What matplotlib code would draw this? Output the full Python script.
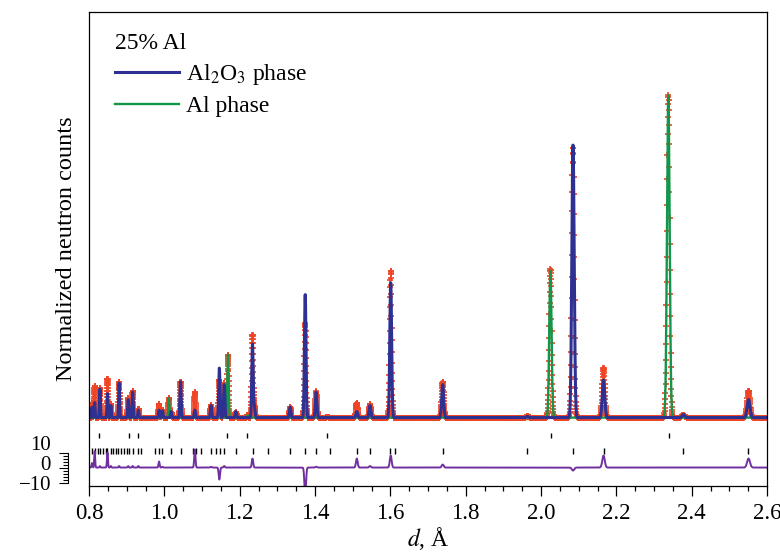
import numpy as np
import matplotlib.pyplot as plt

plt.rcParams['font.family'] = ['Liberation Serif', 'DejaVu Serif']
plt.rcParams['mathtext.fontset'] = 'stix'

# Al2O3 reflections with visible intensity: d (Å), calculated and observed peak heights
al2o3_d = [0.808, 0.815, 0.829, 0.849, 0.858, 0.880, 0.904, 0.916, 0.931, 0.986,
           0.995, 1.018, 1.043, 1.081, 1.124, 1.146, 1.159, 1.190, 1.234, 1.239,
           1.334, 1.374, 1.403, 1.511, 1.546, 1.601, 1.739, 1.964, 2.085, 2.166,
           2.378, 2.551]
al2o3_calc = [7, 10, 19, 16, 8, 23, 12, 17, 5, 5,
              4.5, 4, 24, 5, 8, 33, 22, 4, 49, 7,
              7, 82, 17, 4, 8, 90, 22, 0.8, 182, 25,
              2, 12]
al2o3_obs = [10, 21, 20, 26, 9, 24, 13, 18, 6, 9,
             5, 4, 24, 17, 8.5, 25, 23, 4, 55, 7,
             7, 63, 17.5, 10, 9, 98, 24, 0.8, 180, 33,
             2, 18]

# Al reflections
al_d = [1.012, 1.169, 1.221, 1.433, 2.025, 2.338]
al_calc = [13, 42, 1.5, 0.5, 98, 215]
al_obs = [13, 42, 1.5, 0.5, 99, 215]

# reflection markers of both phases
al2o3_ticks = [0.808, 0.815, 0.823, 0.829, 0.838, 0.844, 0.849, 0.858, 0.864, 0.871,
               0.877, 0.885, 0.893, 0.901, 0.907, 0.916, 0.931, 0.938, 0.975, 0.986,
               0.995, 1.018, 1.043, 1.077, 1.083, 1.097, 1.124, 1.138, 1.148, 1.159,
               1.190, 1.235, 1.275, 1.334, 1.374, 1.402, 1.440, 1.511, 1.545, 1.600,
               1.613, 1.739, 1.964, 2.085, 2.166, 2.378, 2.550]
al_ticks = [0.826, 0.906, 0.929, 1.012, 1.167, 1.220, 1.433, 2.027, 2.341]

background = 33.3
excluded = [(2.014, 2.039), (2.321, 2.374)]

# time-of-flight grid: constant delta d / d
d = np.geomspace(0.79, 2.61, 5900)


def pattern(positions, heights):
    y = np.zeros_like(d)
    for p, h in zip(positions, heights):
        y += h * np.exp(-0.5 * ((d - p) / (0.0015 * p)) ** 2)
    return y


calc_al2o3 = background + pattern(al2o3_d, al2o3_calc)
calc_al = background + pattern(al_d, al_calc)
calc_total = calc_al2o3 + calc_al - background
obs = background + pattern(al2o3_d, al2o3_obs) + pattern(al_d, al_obs)

diff = obs - calc_total
keep = np.ones_like(d, dtype=bool)
for lo, hi in excluded:
    keep &= ~((d > lo) & (d < hi))

fig = plt.figure(figsize=(7.8, 5.57), dpi=100)
ax = fig.add_axes([89 / 780, 1 - 486 / 557, 678 / 780, 474 / 557])

ax.plot(d, obs, ls='none', marker='+', ms=5, mew=1.2, color='#ef4526')
l_al, = ax.plot(d, calc_al, color='#12964a', lw=1.7)
l_ox, = ax.plot(d, calc_al2o3, color='#2e3192', lw=2.2)

ax.vlines(al_ticks, 19.5, 22.8, color='k', lw=1.0)
ax.vlines(al2o3_ticks, 8.8, 12.8, color='k', lw=1.0)
ax.plot(d[keep], diff[keep], color='#7030a0', lw=1.4)

ax.set_xlim(0.8, 2.6)
ax.set_ylim(-12.3, 303.7)
ax.set_xticks(np.arange(0.8, 2.61, 0.2))
ax.set_xticks(np.arange(0.8, 2.61, 0.05), minor=True)
ax.set_xticklabels([f'{v:.1f}' for v in np.arange(0.8, 2.61, 0.2)])
ax.set_yticks([])
ax.tick_params(axis='x', which='major', direction='out', length=7, width=0.9,
               labelsize=16.5, pad=5)
ax.tick_params(axis='x', which='minor', direction='out', length=3.6, width=0.9)
for s in ax.spines.values():
    s.set_linewidth(0.9)

ax.set_xlabel(r'$d$, Å', fontsize=17, labelpad=1)
ax.set_ylabel('Normalized neutron counts', fontsize=17.5, labelpad=9)

leg = ax.legend([l_ox, l_al], ['Al$_2$O$_3$ phase', 'Al phase'], title='25% Al',
                loc='upper left', bbox_to_anchor=(0.038, 0.956), frameon=False,
                fontsize=17, title_fontsize=17, handlelength=2.7, handletextpad=0.3,
                labelspacing=0.36, borderpad=0, borderaxespad=0, alignment='left')

# small scale bar for the difference curve
axr = fig.add_axes([68 / 780, 1 - 482.5 / 557, 0.01, 30 / 557])
axr.set_ylim(-10, 10)
axr.set_xticks([])
axr.set_yticks([-10, 0, 10])
axr.set_yticks(np.arange(-10, 11, 2), minor=True)
axr.set_yticklabels([])
axr.tick_params(axis='y', which='major', direction='out', length=6.5, width=0.8)
axr.tick_params(axis='y', which='minor', direction='out', length=3.6, width=0.8)
for side in ['top', 'right', 'bottom']:
    axr.spines[side].set_visible(False)
axr.spines['left'].set_linewidth(0.8)
axr.patch.set_visible(False)

for txt, ypix in [('10', 446), ('0', 465), ('\u221210', 485)]:
    fig.text(51 / 780, 1 - ypix / 557, txt, ha='right', va='center', fontsize=15)

fig.savefig('out.png', dpi=100)
